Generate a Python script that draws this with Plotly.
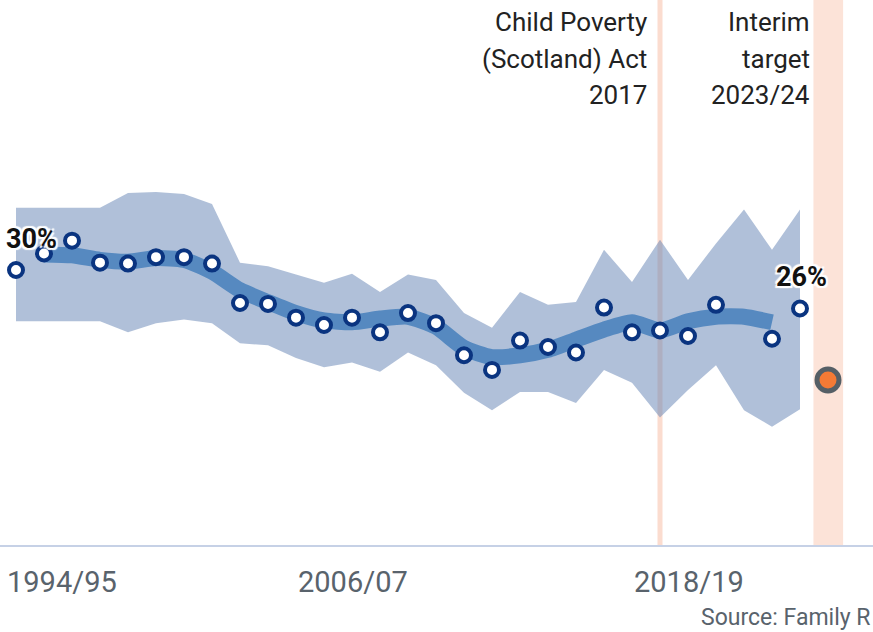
import plotly.graph_objects as go

years = ["1994/95", "1995/96", "1996/97", "1997/98", "1998/99", "1999/00", "2000/01",
         "2001/02", "2002/03", "2003/04", "2004/05", "2005/06", "2006/07", "2007/08",
         "2008/09", "2009/10", "2010/11", "2011/12", "2012/13", "2013/14", "2014/15",
         "2015/16", "2016/17", "2017/18", "2018/19", "2019/20", "2020/21", "2021/22",
         "2022/23", "2023/24"]

# single-year estimates (%), 2020/21 missing
poverty = [30.0, 31.8, 33.2, 30.8, 30.7, 31.4, 31.4, 30.7, 26.4, 26.3, 24.8, 24.0,
           24.8, 23.2, 25.3, 24.2, 20.7, 19.1, 22.3, 21.6, 21.0, 25.9, 23.2, 23.4,
           22.8, 26.2, None, 22.5, 25.8]

# uncertainty band (%)
band_upper = [36.8, 36.8, 36.8, 36.8, 38.4, 38.5, 38.3, 37.2, 30.8, 30.4, 29.5, 28.6,
              29.6, 27.6, 29.5, 28.9, 25.3, 23.7, 27.6, 26.2, 26.5, 32.2, 28.7, 33.3,
              28.9, 32.9, 36.6, 32.2, 36.6]
band_lower = [24.4, 24.4, 24.4, 24.4, 23.2, 24.2, 24.6, 24.2, 22.0, 21.8, 20.4, 19.4,
              19.9, 18.9, 21.0, 19.6, 16.6, 14.7, 16.7, 16.7, 15.5, 19.1, 17.7, 13.9,
              16.9, 19.6, 14.7, 12.9, 14.8]

# three-year average trend (%)
trend = [None, 31.7, 31.6, 31.1, 30.9, 31.3, 31.1, 29.8, 27.8, 26.5, 25.3, 24.5, 24.3,
         24.7, 24.9, 23.8, 21.5, 20.5, 20.7, 21.3, 22.4, 23.5, 24.3, 23.4, 24.4, 24.9,
         24.9, 24.3, None]

target_value = 18.0
target_label = ["Interim", "target", "2023/24"]
act_label = ["Child Poverty", "(Scotland) Act", "2017"]
act_year = "2017/18"
tick_years = ["1994/95", "2006/07", "2018/19"]
source_text = "Source: Family R"

idx = list(range(len(poverty)))
x_target = years.index("2023/24")
x_act = years.index(act_year)

FONT = "Roboto, 'Noto Sans', sans-serif"

fig = go.Figure()

# uncertainty band
fig.add_trace(go.Scatter(
    x=idx + idx[::-1], y=band_upper + band_lower[::-1],
    fill="toself", fillcolor="rgba(98,130,180,0.5)",
    line=dict(width=0), mode="lines", hoverinfo="skip", showlegend=False))

# trend line
fig.add_trace(go.Scatter(
    x=idx, y=trend, mode="lines",
    line=dict(color="#5689c0", width=16, shape="spline", smoothing=0.6),
    connectgaps=False, hoverinfo="skip", showlegend=False))

# annual points
fig.add_trace(go.Scatter(
    x=idx, y=poverty, mode="markers",
    marker=dict(size=14, color="white", line=dict(color="#0a3480", width=4)),
    showlegend=False))

# target point
fig.add_trace(go.Scatter(
    x=[x_target], y=[target_value], mode="markers",
    marker=dict(size=22, color="#f47a35", line=dict(color="#555f66", width=5)),
    showlegend=False))

shapes = [
    dict(type="rect", xref="x", yref="paper", x0=x_target - 0.52, x1=x_target + 0.54,
         y0=0, y1=1, fillcolor="#fce3d8", line=dict(width=0), layer="below"),
    dict(type="line", xref="x", yref="paper", x0=x_act, x1=x_act, y0=0, y1=1,
         line=dict(color="#fbdccf", width=5), layer="below"),
]

annotations = []
# tick labels
for i, t in enumerate(tick_years):
    xi = years.index(t)
    annotations.append(dict(
        x=xi, y=0, xref="x", yref="paper", text=t, showarrow=False,
        xanchor="left" if i == 0 else "center", yanchor="top",
        xshift=-11 if i == 0 else 1, yshift=-18,
        font=dict(family=FONT, size=29, color="#59636c")))

# value labels
first_i = 0
last_i = len(poverty) - 1
halo = "2px 2px 1px white, -2px -2px 1px white, 2px -2px 1px white, -2px 2px 1px white"
annotations.append(dict(
    x=first_i, y=poverty[first_i], text=f"{round(poverty[first_i])}%", showarrow=False,
    xanchor="center", yanchor="middle", xshift=15, yshift=31,
    font=dict(family=FONT, size=27, color="#111", weight="bold", shadow=halo)))
annotations.append(dict(
    x=last_i, y=poverty[last_i], text=f"{round(poverty[last_i])}%", showarrow=False,
    xanchor="center", yanchor="middle", xshift=1, yshift=31,
    font=dict(family=FONT, size=27, color="#111", weight="bold", shadow=halo)))

# event labels, one line each
for labels, xi, xs in ((act_label, x_act, -11), (target_label, x_target, -16)):
    for k, line in enumerate(labels):
        annotations.append(dict(
            x=xi, y=1, xref="x", yref="paper", text=line, showarrow=False,
            xanchor="right", yanchor="middle", align="right",
            xshift=xs, yshift=-22 - 36.5 * k,
            font=dict(family=FONT, size=26, color="#222")))

# source
annotations.append(dict(
    x=1, y=0, xref="paper", yref="paper", text=source_text, showarrow=False,
    xanchor="right", yanchor="top", yshift=-57,
    font=dict(family=FONT, size=23, color="#59636c")))

fig.update_layout(
    width=873, height=632,
    margin=dict(l=0, r=0, t=0, b=87),
    paper_bgcolor="white", plot_bgcolor="white",
    shapes=shapes, annotations=annotations,
    xaxis=dict(range=[-16 / 28, (873 - 16) / 28], showgrid=False, zeroline=False,
               showticklabels=False, ticks="", showline=True, linecolor="#c6d1e6",
               linewidth=2, fixedrange=True),
    yaxis=dict(range=[0, 545 / 9.167], showgrid=False, zeroline=False,
               showticklabels=False, ticks="", fixedrange=True),
    showlegend=False,
)

fig.write_html("out.html", config={"displayModeBar": False},
               post_script="document.body.style.margin='0';document.body.style.overflow='hidden';")
